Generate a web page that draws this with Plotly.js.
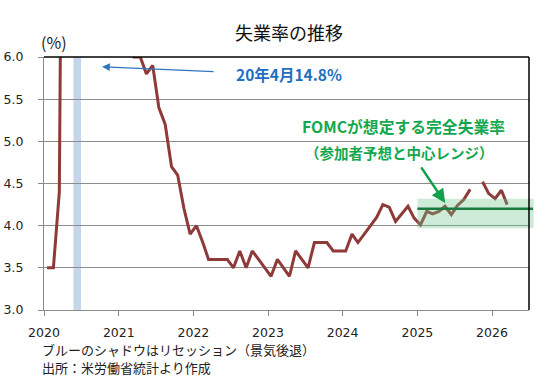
<!DOCTYPE html>
<html>
<head>
<meta charset="utf-8">
<script src="https://cdn.plot.ly/plotly-3.0.1.min.js"></script>
<style>
html,body{margin:0;padding:0;background:#fff;}
#chart{width:558px;height:381px;}
</style>
</head>
<body>
<div id="chart"></div>
<script>
// Monthly unemployment rate (%), Jan..Dec of each year
const years = [2020, 2021, 2022, 2023, 2024, 2025, 2026];
const u2020 = [3.5, 3.5, 4.4, 14.8, 13.3, 11.1, 10.2, 8.4, 7.9, 6.9, 6.7, 6.7];
const u2021 = [6.4, 6.2, 6.0, 6.0, 5.8, 5.9, 5.4, 5.2, 4.7, 4.6, 4.2, 3.9];
const u2022 = [4.0, 3.8, 3.6, 3.6, 3.6, 3.6, 3.5, 3.7, 3.5, 3.7, 3.6, 3.5];
const u2023 = [3.4, 3.6, 3.5, 3.4, 3.7, 3.6, 3.5, 3.8, 3.8, 3.8, 3.7, 3.7];
const u2024 = [3.7, 3.9, 3.8, 3.9, 4.0, 4.1, 4.25, 4.22, 4.05, 4.14, 4.23, 4.09];
const u2025 = [4.01, 4.17, 4.14, 4.17, 4.23, 4.13, 4.24, 4.31, 4.43, null, 4.52, 4.38];
const u2026 = [4.32, 4.42, 4.25];
const rateByYear = [u2020, u2021, u2022, u2023, u2024, u2025, u2026];

// Recession shading
const recessionStart = ['2020-05-24'];
const recessionEnd = ['2020-06-30'];

// FOMC longer-run unemployment rate: median and central tendency
const fomcStart = '2025-01-01';
const fomcMedian = 4.2;
const fomcLow = 3.97;
const fomcHigh = 4.32;

// Annotations
const peakLabel = '20年4月14.8%';
const fomcLabel1 = 'FOMCが想定する完全失業率';
const fomcLabel2 = '（参加者予想と中心レンジ）';
const titleText = '失業率の推移';
const unitText = '(%)';
const note1 = 'ブルーのシャドウはリセッション（景気後退）';
const note2 = '出所：米労働省統計より作成';

const xs = [], ys = [];
years.forEach((y, i) => {
  rateByYear[i].forEach((v, m) => {
    xs.push(y + '-' + String(m + 1).padStart(2, '0') + '-16');
    ys.push(v);
  });
});

const CJK = '"Noto Sans CJK JP", "Noto Sans", sans-serif';
const TICKF = '"DejaVu Sans", Verdana, sans-serif';

const trace = {
  x: xs, y: ys, type: 'scatter', mode: 'lines',
  line: {color: '#8e3a38', width: 3},
  connectgaps: false, hoverinfo: 'skip'
};

const shapes = [];
recessionStart.forEach((s, i) => {
  shapes.push({type: 'rect', xref: 'x', yref: 'paper', x0: s, x1: recessionEnd[i], y0: 0, y1: 1,
    fillcolor: '#c6d6ea', line: {width: 0}, layer: 'between'});
});
// FOMC band (semi-transparent, above the line)
shapes.push({type: 'rect', xref: 'x', yref: 'y', x0: fomcStart, x1: '2026-07-01', y0: fomcLow, y1: fomcHigh,
  fillcolor: 'rgb(112,198,138)', opacity: 0.35, line: {width: 0}, layer: 'above'});
// small overhang of the band past the right frame
shapes.push({type: 'rect', xref: 'paper', yref: 'y', x0: 1, x1: 1.0095, y0: fomcLow, y1: fomcHigh,
  fillcolor: 'rgb(112,198,138)', opacity: 0.35, line: {width: 0}, layer: 'above'});
shapes.push({type: 'line', xref: 'x', yref: 'y', x0: fomcStart, x1: '2026-07-01', y0: fomcMedian, y1: fomcMedian,
  line: {color: '#1b7a3e', width: 2.5}, layer: 'above'});
shapes.push({type: 'line', xref: 'paper', yref: 'y', x0: 1, x1: 1.0085, y0: fomcMedian, y1: fomcMedian,
  line: {color: '#1b7a3e', width: 2.5}, layer: 'above'});
// Black frame top & right
shapes.push({type: 'line', xref: 'paper', yref: 'paper', x0: 0, x1: 1, y0: 1, y1: 1,
  line: {color: '#000', width: 1.5}, layer: 'above'});
shapes.push({type: 'line', xref: 'paper', yref: 'paper', x0: 1, x1: 1, y0: 0, y1: 1,
  line: {color: '#000', width: 1.5}, layer: 'above'});

const annotations = [
  {xref: 'paper', yref: 'paper', x: -0.01, y: 1.058, xanchor: 'left', yanchor: 'middle',
   text: unitText, showarrow: false, font: {family: CJK, size: 16, color: '#222'}},
  {xref: 'x', yref: 'y', x: '2020-10-11', y: 5.885, ax: 113, ay: 5, axref: 'pixel', ayref: 'pixel',
   text: '', showarrow: true, arrowhead: 2, arrowsize: 1.3, arrowwidth: 1.2, arrowcolor: '#2f75c0'},
  {xref: 'paper', yref: 'paper', x: 0.392, y: 0.933, xanchor: 'left', yanchor: 'middle',
   text: '<b>' + peakLabel + '</b>', showarrow: false, font: {family: CJK, size: 15.5, color: '#1f6fbf'}},
  {xref: 'paper', yref: 'paper', x: 0.7416, y: 0.7245, xanchor: 'center', yanchor: 'middle',
   text: '<b>' + fomcLabel1 + '</b>', showarrow: false, font: {family: CJK, size: 15.8, color: '#14a84e'}},
  {xref: 'paper', yref: 'paper', x: 0.732, y: 0.6245, xanchor: 'center', yanchor: 'middle',
   text: '<b>' + fomcLabel2 + '</b>', showarrow: false, font: {family: CJK, size: 14.5, color: '#14a84e'}},
  {xref: 'x', yref: 'y', x: '2025-05-17', y: 4.27, ax: -25, ay: -37, axref: 'pixel', ayref: 'pixel',
   text: '', showarrow: true, arrowhead: 2, arrowsize: 1.1, arrowwidth: 2.5, arrowcolor: '#12a04a'},
  {xref: 'paper', yref: 'paper', x: -0.008, y: -0.158, xanchor: 'left', yanchor: 'middle',
   text: note1, showarrow: false, font: {family: CJK, size: 13, color: '#222'}},
  {xref: 'paper', yref: 'paper', x: -0.008, y: -0.2265, xanchor: 'left', yanchor: 'middle',
   text: note2, showarrow: false, font: {family: CJK, size: 13, color: '#222'}}
];

const layout = {
  width: 558, height: 381,
  margin: {l: 44, r: 29, t: 57, b: 71, pad: 0},
  paper_bgcolor: '#fff', plot_bgcolor: '#fff',
  showlegend: false,
  title: {text: titleText, x: 0.518, xref: 'container', xanchor: 'center',
          y: 0.911, yref: 'container', yanchor: 'middle',
          font: {family: CJK, size: 18, color: '#111'}},
  xaxis: {type: 'date', range: ['2020-01-01', '2026-07-01'], dtick: 'M12', tick0: '2020-01-01',
          tickformat: '%Y', showgrid: false, zeroline: false,
          showline: true, linecolor: '#8a8a8a', linewidth: 1,
          ticks: 'outside', ticklen: 5, tickcolor: '#8a8a8a', ticklabelstandoff: 6,
          tickfont: {family: TICKF, size: 12.5, color: '#222'}, fixedrange: true},
  yaxis: {range: [3, 6], dtick: 0.5, tick0: 3, tickformat: '.1f',
          showgrid: true, gridcolor: '#8c8c8c', gridwidth: 1, zeroline: false,
          showline: true, linecolor: '#8a8a8a', linewidth: 1,
          ticks: 'outside', ticklen: 5, tickcolor: '#8a8a8a', ticklabelstandoff: 12,
          tickfont: {family: TICKF, size: 12.5, color: '#222'}, fixedrange: true},
  shapes: shapes,
  annotations: annotations
};

Plotly.newPlot('chart', [trace], layout, {staticPlot: true, displayModeBar: false});
</script>
</body>
</html>
